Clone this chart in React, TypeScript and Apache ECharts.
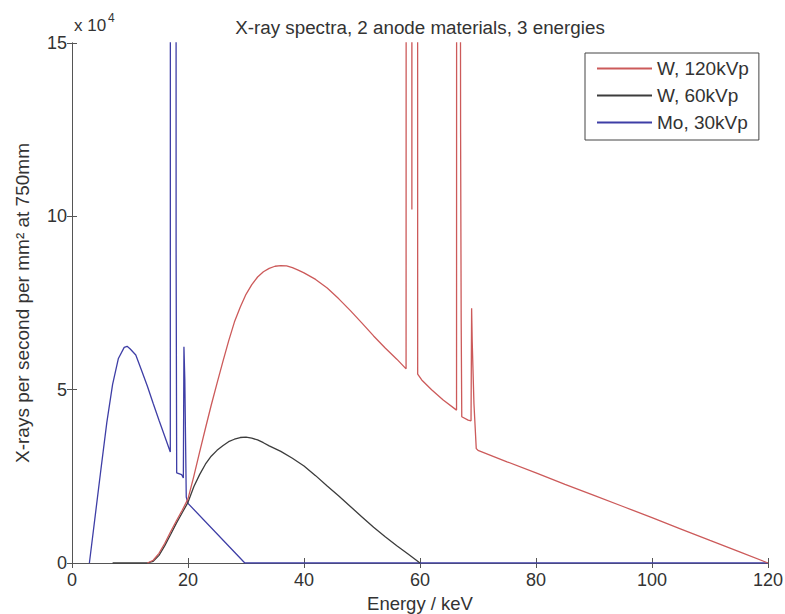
import React, { useEffect, useRef } from "react";
import * as echarts from "echarts";

// W, 120 kVp  (counts in units of 10^4)
const w120Energy = [13, 14, 15, 16, 17, 18, 19, 20, 21, 22, 23, 24, 25, 26, 27, 28, 29, 30, 31, 32, 33, 34, 35, 36, 37, 38, 39, 40, 42, 44, 46, 48, 50, 52, 54, 56, 57.6, 57.7, 58.5, 58.6, 58.7, 59.5, 59.6, 60.3, 62, 64, 66.3, 66.4, 67.0, 67.1, 67.2, 68.3, 68.8, 68.9, 69.0, 69.3, 69.7, 70, 75, 80, 85, 90, 95, 100, 105, 110, 115, 120];
const w120Counts = [0, 0.08, 0.28, 0.57, 0.9, 1.22, 1.52, 1.85, 2.5, 3.2, 3.88, 4.55, 5.18, 5.8, 6.4, 6.95, 7.38, 7.75, 8.03, 8.25, 8.4, 8.5, 8.56, 8.58, 8.57, 8.52, 8.45, 8.37, 8.18, 7.93, 7.62, 7.28, 6.92, 6.55, 6.2, 5.88, 5.6, 100, 100, 10.2, 100, 100, 5.45, 5.28, 5.0, 4.7, 4.41, 100, 12.4, 7.0, 4.22, 4.12, 4.1, 7.35, 6.4, 4.6, 3.3, 3.25, 2.92, 2.6, 2.27, 1.95, 1.63, 1.31, 0.98, 0.65, 0.33, 0];

// W, 60 kVp
const w60Energy = [7, 10, 13, 14, 15, 16, 17, 18, 19, 20, 21, 22, 23, 24, 25, 26, 27, 28, 29, 30, 31, 32, 33, 34, 35, 36, 38, 40, 42, 44, 46, 48, 50, 52, 54, 56, 58, 60];
const w60Counts = [0, 0, 0, 0.05, 0.22, 0.5, 0.82, 1.15, 1.45, 1.75, 2.2, 2.55, 2.85, 3.08, 3.25, 3.38, 3.5, 3.57, 3.62, 3.63, 3.6, 3.55, 3.47, 3.38, 3.3, 3.22, 3.02, 2.8, 2.52, 2.22, 1.93, 1.63, 1.33, 1.03, 0.76, 0.5, 0.25, 0];

// Mo, 30 kVp
const mo30Energy = [3, 4, 5, 6, 7, 8, 9, 9.5, 10, 11, 12, 13, 14, 15, 16, 16.95, 17.0, 17.9, 17.95, 18.05, 18.9, 19.2, 19.3, 19.45, 19.55, 19.7, 20.0, 29.8, 120];
const mo30Counts = [0, 1.36, 2.72, 4.05, 5.15, 5.9, 6.22, 6.25, 6.18, 6.0, 5.55, 5.1, 4.6, 4.12, 3.65, 3.2, 100, 100, 9.0, 2.6, 2.55, 2.45, 6.24, 5.3, 5.3, 1.9, 1.72, 0, 0];

const seriesNames = ["W, 120kVp", "W, 60kVp", "Mo, 30kVp"];
const seriesColors = ["#cc5a5a", "#3c3c3c", "#3e3ea6"];

const xTicks = { min: 0, max: 120, step: 20 };
const yTicks = { min: 0, max: 15, step: 5 };

const zip = (xs: number[], ys: number[]) => xs.map((x, i) => [x, ys[i]]);

const FONT = "'Liberation Sans', Arial, sans-serif";
const TXT = "#333";
const AX = "#555";

export default function App() {
  const ref = useRef<HTMLDivElement>(null);
  useEffect(() => {
    if (!ref.current) return;
    const chart = echarts.init(ref.current, undefined, { renderer: "svg" });
    const axisLine = { show: true, lineStyle: { color: AX, width: 1 } };
    const axisTick = { show: true, inside: true, length: 5, lineStyle: { color: AX, width: 1 } };
    const datasets = [zip(w120Energy, w120Counts), zip(w60Energy, w60Counts), zip(mo30Energy, mo30Counts)];
    chart.setOption({
      animation: false,
      backgroundColor: "#fff",
      title: {
        text: "X-ray spectra, 2 anode materials, 3 energies",
        left: 415,
        top: 13,
        textAlign: "center",
        textStyle: { fontFamily: FONT, fontSize: 18.8, fontWeight: "normal", color: TXT },
      },
      grid: { left: 72, right: 17, top: 43, bottom: 51, containLabel: false, outerBoundsMode: "none" },
      legend: {
        orient: "vertical",
        left: 585,
        top: 53,
        padding: [6, 10, 8, 11],
        itemWidth: 55,
        itemHeight: 20,
        itemGap: 8,
        borderColor: "#444",
        borderWidth: 1,
        backgroundColor: "#fff",
        itemStyle: { opacity: 0 },
        textStyle: { fontFamily: FONT, fontSize: 19, color: TXT },
        data: seriesNames,
      },
      xAxis: [
        {
          type: "value",
          position: "bottom",
          min: xTicks.min,
          max: xTicks.max,
          interval: xTicks.step,
          axisLine,
          axisTick,
          splitLine: { show: false },
          axisLabel: { color: TXT, fontFamily: FONT, fontSize: 18, margin: 8 },
          name: "Energy / keV",
          nameLocation: "middle",
          nameGap: 31,
          nameTextStyle: { color: TXT, fontFamily: FONT, fontSize: 18.5 },
        },
        {
          type: "value",
          position: "top",
          min: xTicks.min,
          max: xTicks.max,
          interval: xTicks.step,
          axisLine,
          axisTick,
          splitLine: { show: false },
          axisLabel: { show: false },
        },
      ],
      yAxis: [
        {
          type: "value",
          position: "left",
          min: yTicks.min,
          max: yTicks.max,
          interval: yTicks.step,
          axisLine,
          axisTick,
          splitLine: { show: false },
          axisLabel: { color: TXT, fontFamily: FONT, fontSize: 18, margin: 5 },
          name: "X-rays per second per mm² at 750mm",
          nameLocation: "middle",
          nameGap: 40,
          nameTextStyle: { color: TXT, fontFamily: FONT, fontSize: 19 },
        },
        {
          type: "value",
          position: "right",
          min: yTicks.min,
          max: yTicks.max,
          interval: yTicks.step,
          axisLine,
          axisTick,
          splitLine: { show: false },
          axisLabel: { show: false },
        },
      ],
      graphic: [
        { type: "text", left: 74, top: 17, style: { text: "x 10", font: `17px ${FONT}`, fill: TXT } },
        { type: "text", left: 108, top: 12, style: { text: "4", font: `12px ${FONT}`, fill: TXT } },
      ],
      series: seriesNames.map((name, i) => ({
        name,
        type: "line",
        data: datasets[i],
        symbol: "none",
        clip: true,
        lineStyle: { color: seriesColors[i], width: 1.3 },
        itemStyle: { color: seriesColors[i] },
        z: 3 - i,
      })),
    });
    return () => chart.dispose();
  }, []);
  return <div ref={ref} style={{ width: 785, height: 614, position: "absolute", left: 0, top: 0 }} />;
}
